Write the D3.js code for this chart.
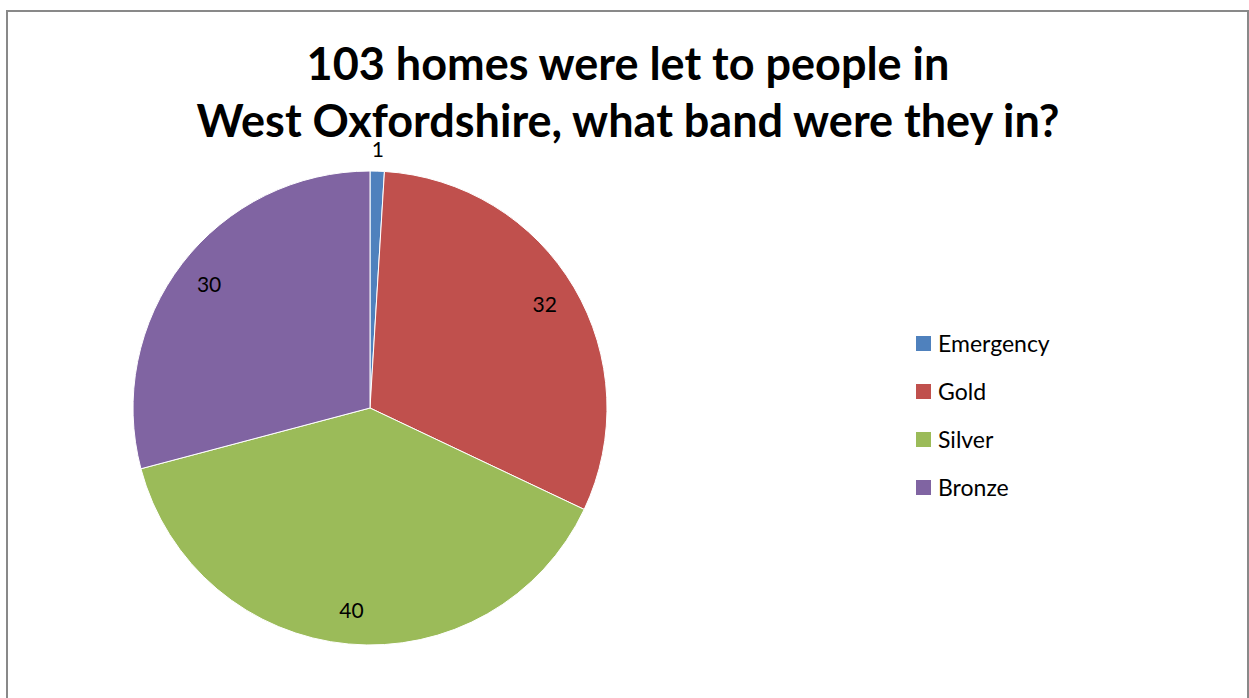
<!DOCTYPE html>
<html>
<head>
<meta charset="utf-8">
<script src="https://d3js.org/d3.v7.min.js"></script>
<style>
body { margin:0; background:#fff; }
svg text { font-family: Lato, "Open Sans", sans-serif; }
</style>
</head>
<body>
<div id="chart"></div>
<script>
// 데이터
var categories = ["Emergency", "Gold", "Silver", "Bronze"];
var values = [1, 32, 40, 30];
var colors = ["#4F81BD", "#C0504D", "#9BBB59", "#8064A2"];
var titleLines = ["103 homes were let to people in", "West Oxfordshire, what band were they in?"];

var W = 1249, H = 698;
var cx = 370, cy = 408, R = 237;

var svg = d3.select("#chart").append("svg")
	.attr("width", W)
	.attr("height", H);

// chart area border
svg.append("rect")
	.attr("x", 7).attr("y", 11)
	.attr("width", 1241).attr("height", 700)
	.style("fill", "#fff")
	.style("stroke", "#898989")
	.style("stroke-width", 2);

// title
svg.selectAll(".title")
	.data(titleLines)
	.enter().append("text")
	.attr("class", "title")
	.attr("x", 628)
	.attr("y", function(d, i){ return 80 + i * 57; })
	.attr("text-anchor", "middle")
	.attr("font-size", "45px")
	.attr("font-weight", "bold")
	.style("fill", "#000")
	.text(function(d){ return d; });

var data = categories.map(function(c, i){ return {name:c, value:values[i], color:colors[i]}; });

var pie = d3.pie().sort(null).value(function(d){ return d.value; });
var arc = d3.arc().innerRadius(0).outerRadius(R);
var labelArc = d3.arc().innerRadius(203).outerRadius(203);
var outArc = d3.arc().innerRadius(258).outerRadius(258);

var g = svg.append("g").attr("transform", "translate(" + cx + "," + cy + ")");
var arcs = pie(data);

g.selectAll(".slice")
	.data(arcs)
	.enter().append("path")
	.attr("class", "slice")
	.attr("d", arc)
	.style("fill", function(d){ return d.data.color; })
	.style("stroke", "#fff")
	.style("stroke-width", 1);

g.selectAll(".lbl")
	.data(arcs)
	.enter().append("text")
	.attr("class", "lbl")
	.attr("transform", function(d){
		var p = (d.data.value / d3.sum(values) < 0.03) ? outArc.centroid(d) : labelArc.centroid(d);
		return "translate(" + p + ")";
	})
	.attr("text-anchor", "middle")
	.attr("dy", "0.35em")
	.attr("font-size", "21px")
	.style("fill", "#000")
	.text(function(d){ return d.data.value; });

// legend
var legend = svg.selectAll(".legend")
	.data(data)
	.enter().append("g")
	.attr("class", "legend")
	.attr("transform", function(d, i){ return "translate(916," + (336 + i * 48) + ")"; });

legend.append("rect")
	.attr("width", 15).attr("height", 15)
	.style("fill", function(d){ return d.color; });

legend.append("text")
	.attr("x", 22).attr("y", 7.5)
	.attr("dy", "0.35em")
	.attr("font-size", "23px")
	.style("fill", "#000")
	.text(function(d){ return d.name; });
</script>
</body>
</html>
